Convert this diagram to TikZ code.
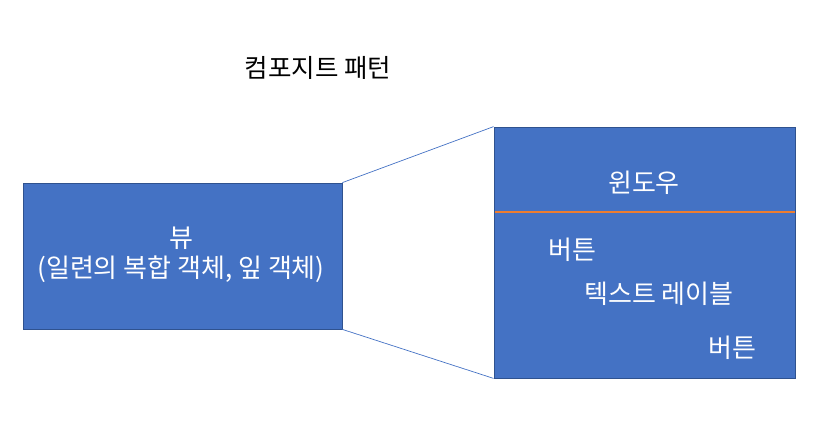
\documentclass[tikz,border=0pt]{standalone}
\usepackage{fontspec}
\setmainfont{Noto Sans CJK KR}
\definecolor{boxblue}{RGB}{68,114,196}
\definecolor{boxedge}{RGB}{47,82,143}
\definecolor{orangeline}{RGB}{237,125,49}
\begin{document}
\begin{tikzpicture}[x=1pt,y=-1pt,
  box/.style={draw=boxedge,line width=0.8pt,fill=boxblue},
  wtext/.style={text=white,font=\fontsize{26}{30}\selectfont,inner sep=0pt,align=center},
  conn/.style={draw=boxblue,line width=0.7pt}]
\useasboundingbox (0,0) rectangle (820,423);
\node[font=\fontsize{25.5}{30}\selectfont,inner sep=0pt] (title) at (318,68) {컴포지트 패턴};
\node[box,minimum width=319pt,minimum height=146pt,inner sep=0pt] (view) at (182.5,256) {};
\node[box,minimum width=301pt,minimum height=251pt,inner sep=0pt] (win) at (644.5,252.5) {};
\coordinate (sl) at (494.5,211.5);
\coordinate (sr) at (794.5,211.5);
\fill[orangeline] (494.5,210.5) rectangle (794.5,212.5);
\draw[conn] (view.north east) -- (win.north west);
\draw[conn] (view.south east) -- (win.south west);
\node[wtext] (vt) at (181,255) {뷰\\(일련의 복합 객체, 잎 객체)};
\node[wtext] (wt) at (644,183) {윈도우};
\node[wtext] (b1) at (572,250) {버튼};
\node[wtext] (lbl) at (659,294) {텍스트 레이블};
\node[wtext] (b2) at (732,348) {버튼};
\end{tikzpicture}
\end{document}
